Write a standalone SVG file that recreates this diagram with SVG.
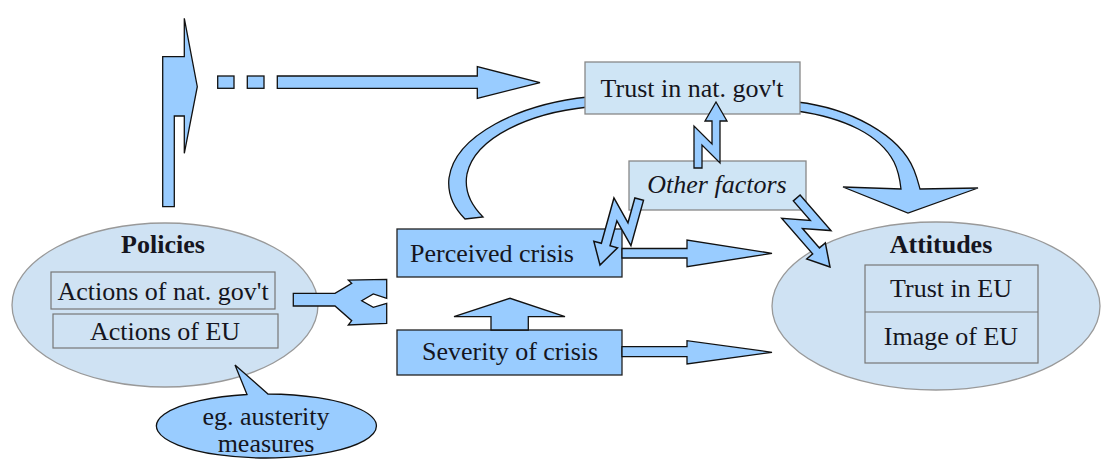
<svg xmlns="http://www.w3.org/2000/svg" xmlns:xlink="http://www.w3.org/1999/xlink" width="1102" height="459" viewBox="0 0 1102 459">
<style>
.arr{fill:#99ccff;stroke:#111;stroke-width:1.3;stroke-linejoin:miter}
.ell{fill:#cfe2f3;stroke:#999;stroke-width:1.3}
.lbox{fill:#cfe5f5;stroke:#888;stroke-width:1.3}
.dbox{fill:#99ccff;stroke:#222;stroke-width:1.3}
.ibox{fill:none;stroke:#777;stroke-width:1.2}
.t{font-family:"Liberation Serif","Times New Roman",serif;font-size:26px;fill:#151520}
.b{font-weight:bold}
.i{font-style:italic}
.m{text-anchor:middle}
</style>
<defs>
<path id="bolt" d="M4,0 L15,19 L8,19 L8,61 L-10,43 L-10,66 L-18,66 L-18,24 L0,42 L0,19 L-7,19 Z"/>
</defs>

<g id="connectors-back">
<path class="arr" d="M588,97 C520,104 455,135 449,178 C447,196 455,209 465,219 L483,217 C471,205 464,190 467,174 C475,137 530,113 588,107 Z"/>
<path class="arr" d="M797,102 C850,108 900,135 914,170 C918,180 919,186 920,189 L978,188 L908,213 L843,187 L901,189 C900,180 898,170 894,162 C880,135 845,118 797,111 Z"/>
</g>

<g id="policies">
<ellipse class="ell" cx="165" cy="305" rx="153" ry="82"/>
<text class="t b m" x="163" y="253">Policies</text>
<rect class="ibox" x="51" y="272" width="224" height="37"/>
<text class="t m" x="163" y="300">Actions of nat. gov't</text>
<rect class="ibox" x="53" y="314" width="225" height="34"/>
<text class="t m" x="165" y="340">Actions of EU</text>
</g>

<g id="callout">
<path class="arr" d="M247,394.5 L235,365 L268,394 A110,32 0 1,1 247,394.5 Z"/>
<text class="t m" x="266" y="425">eg. austerity</text>
<text class="t m" x="266" y="452">measures</text>
</g>

<g id="attitudes">
<ellipse class="ell" cx="936" cy="306" rx="164" ry="84"/>
<text class="t b m" x="941" y="253">Attitudes</text>
<rect class="ibox" x="865" y="265" width="173" height="98"/>
<line class="ibox" x1="865" y1="312" x2="1038" y2="312"/>
<text class="t m" x="951" y="297">Trust in EU</text>
<text class="t m" x="951" y="345">Image of EU</text>
</g>

<g id="trust-nat-gov">
<rect class="lbox" x="585" y="62" width="215" height="52"/>
<text class="t m" x="692" y="97">Trust in nat. gov't</text>
</g>

<g id="other-factors">
<rect class="lbox" x="629" y="161" width="177" height="49"/>
<text class="t i m" x="717" y="193">Other factors</text>
</g>

<g id="perceived-crisis">
<rect class="dbox" x="397" y="229" width="225" height="48"/>
<text class="t" x="410" y="262">Perceived crisis</text>
</g>

<g id="severity">
<rect class="dbox" x="397" y="330" width="225" height="45"/>
<text class="t" x="422" y="360">Severity of crisis</text>
</g>

<g id="connectors">
<polygon class="arr" points="162.7,206.7 162.7,56.7 184.3,56.7 184.3,18.3 197.3,86.7 184.3,153.3 184.3,116 174.3,116 174.3,206.7"/>
<rect class="arr" x="217.7" y="76" width="16.3" height="12.3"/>
<rect class="arr" x="247.3" y="76" width="16.7" height="12.3"/>
<polygon class="arr" points="277.3,76 477.3,76 477.3,66.7 540,82.7 477.3,98.3 477.3,88.3 277.3,88.3"/>
<polygon class="arr" points="293.3,293.3 335,293.3 351.7,283.3 348.3,280 386.7,279.3 386.7,298.3 373.3,294 361.7,300.7 373.3,307.3 386.7,303.3 386.7,323.3 348.3,325 351.7,320.7 335,306 293.3,306"/>
<polygon class="arr" points="491,330 491,316.7 454,316.7 510,298.3 565,316.7 528.3,316.7 528.3,330"/>
<polygon class="arr" points="622,248.5 687,248.5 687,240 772,253.3 687,266.7 687,258 622,258"/>
<polygon class="arr" points="622,346.7 687,346.7 687,340.7 772,352.3 687,364 687,356.7 622,356.7"/>
<use xlink:href="#bolt" class="arr" transform="translate(712,102)"/>
<use xlink:href="#bolt" class="arr" transform="translate(600,265) rotate(-164.5) scale(1.12) translate(-4,0)"/>
<use xlink:href="#bolt" class="arr" transform="translate(830,267) rotate(139) scale(1.12) translate(-4,0)"/>
</g>
</svg>
